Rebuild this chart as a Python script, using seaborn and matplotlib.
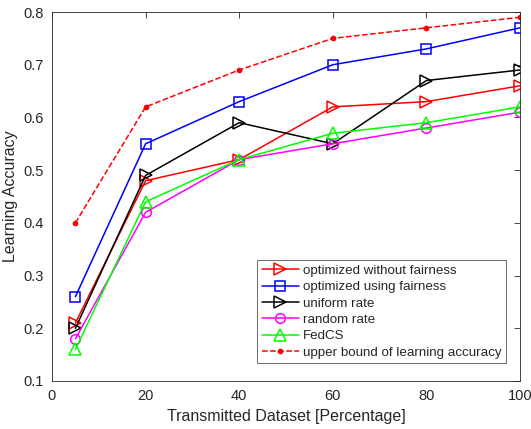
import matplotlib
matplotlib.use("Agg")
import matplotlib.pyplot as plt
import seaborn as sns
import pandas as pd

x = [5, 20, 40, 60, 80, 100]
opt_no_fair = [0.21, 0.48, 0.52, 0.62, 0.63, 0.66]
opt_fair = [0.26, 0.55, 0.63, 0.70, 0.73, 0.77]
uniform = [0.20, 0.49, 0.59, 0.55, 0.67, 0.69]
random_rate = [0.18, 0.42, 0.52, 0.55, 0.58, 0.61]
fedcs = [0.16, 0.44, 0.52, 0.57, 0.59, 0.62]
upper = [0.40, 0.62, 0.69, 0.75, 0.77, 0.79]

names = ["optimized without fairness", "optimized using fairness", "uniform rate",
         "random rate", "FedCS", "upper bound of learning accuracy"]
series = [opt_no_fair, opt_fair, uniform, random_rate, fedcs, upper]

sns.set_style("white")
plt.rcParams['font.family'] = ['Liberation Sans', 'DejaVu Sans']

rows = []
for n, s in zip(names, series):
    for xi, yi in zip(x, s):
        rows.append({"x": xi, "y": yi, "series": n})
df = pd.DataFrame(rows)

colors = ["#ff0000", "#0000ff", "#000000", "#ff00ff", "#00ff00", "#ff0000"]
markers = [">", "s", ">", "o", "^", "."]
sizes = [9, 7, 9, 7, 9, 6]
styles = ["-", "-", "-", "-", "-", "--"]

fig = plt.figure(figsize=(5.31, 4.29), dpi=100)
ax = fig.add_axes([52/531, 1 - 381/429, (520-52)/531, (381-12)/429])

for n, c, m, ms, ls in zip(names, colors, markers, sizes, styles):
    sub = df[df["series"] == n]
    sns.lineplot(data=sub, x="x", y="y", ax=ax, color=c, marker=m, markersize=ms,
                 linestyle=ls, linewidth=1.1, label=n,
                 markerfacecolor="none" if m != "." else c,
                 markeredgecolor=c, markeredgewidth=1.1)

ax.set_xlim(0, 100)
ax.set_ylim(0.1, 0.8)
ax.set_xticks([0, 20, 40, 60, 80, 100])
ax.set_yticks([0.1, 0.2, 0.3, 0.4, 0.5, 0.6, 0.7, 0.8])
ax.set_yticklabels(["0.1", "0.2", "0.3", "0.4", "0.5", "0.6", "0.7", "0.8"])
ax.tick_params(direction="in", top=True, right=True, length=4, width=0.6,
               labelsize=10.5, colors="#262626", pad=6)
for sp in ax.spines.values():
    sp.set_visible(True)
    sp.set_color("#262626")
    sp.set_linewidth(0.6)
ax.set_xlabel("Transmitted Dataset [Percentage]", fontsize=11.5, color="#262626")
ax.set_ylabel("Learning Accuracy", fontsize=11.5, color="#262626")

leg = ax.legend(loc="lower right", bbox_to_anchor=(0.985, 0.03), fontsize=9.6,
                frameon=True, fancybox=False, edgecolor="#262626",
                handlelength=2.8, borderpad=0.35, labelspacing=0.3, handletextpad=0.3)
leg.get_frame().set_linewidth(0.6)

fig.savefig("out.png", dpi=100)
